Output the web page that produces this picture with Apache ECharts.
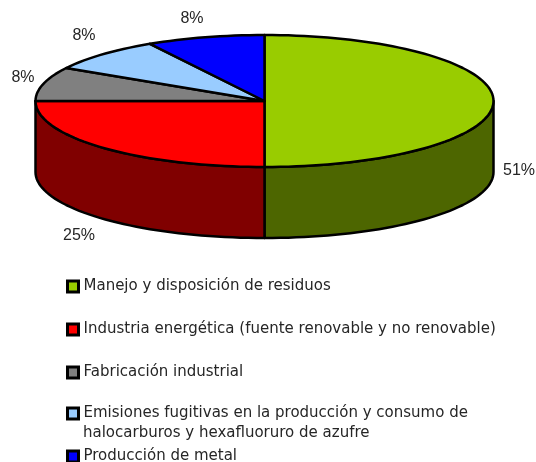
<!DOCTYPE html>
<html>
<head>
<meta charset="utf-8">
<style>
  html, body { margin: 0; padding: 0; background: #fff; }
  #chart { width: 536px; height: 462px; }
</style>
<script src="https://cdn.jsdelivr.net/npm/echarts@6/dist/echarts.min.js"></script>
</head>
<body>
<div id="chart"></div>
<script>
// data
var categories = [
  'Manejo y disposición de residuos',
  'Industria energética (fuente renovable y no renovable)',
  'Fabricación industrial',
  'Emisiones fugitivas en la producción y consumo de\nhalocarburos y hexafluoruro de azufre',
  'Producción de metal'
];
// the printed percentages
var percentLabels = ['51%', '25%', '8%', '8%', '8%'];
// the size each slice is actually drawn at (the printed ones are rounded)
var sliceShares = [50, 25, 8.33, 8.33, 8.34];
var topColors = ['#99CC00', '#FF0000', '#808080', '#99CCFF', '#0000FF'];
var sideColors = ['#4D6600', '#800000', '#404040', '#4D6680', '#000080'];

// layout
var cx = 264.5, cy = 101, rx = 229, ry = 66, depth = 71;
var labelPos = [[519, 171], [79, 236], [23, 78], [84, 36], [192, 19]];
var legendTops = [279, 322, 365, 406, 449];
var labelFont = '16px "Liberation Sans"';
var legendFontName = 'DejaVu Sans';
var textColor = '#262626';

var total = 0;
for (var i = 0; i < sliceShares.length; i++) {
  total += sliceShares[i];
}

function rimPoint(deg, dy) {
  var t = deg * Math.PI / 180;
  return [cx + rx * Math.sin(t), cy - ry * Math.cos(t) + dy];
}

function arc(from, to, dy) {
  var pts = [];
  var n = Math.max(2, Math.ceil(Math.abs(to - from) / 2));
  for (var k = 0; k <= n; k++) {
    pts.push(rimPoint(from + (to - from) * k / n, dy));
  }
  return pts;
}

function renderSlice(index) {
  return function (params, api) {
    var start = api.value(0) / total * 360;
    var end = start + api.value(1) / total * 360;
    var children = [];

    // outer wall, only the front half of the rim shows
    var a = Math.max(start, 90), b = Math.min(end, 270);
    if (b > a) {
      children.push({
        type: 'polygon',
        shape: { points: arc(a, b, 0).concat(arc(b, a, depth)) },
        style: { fill: sideColors[index], stroke: '#000', lineWidth: 2.5, lineJoin: 'round' }
      });
    }

    children.push({
      type: 'polygon',
      shape: { points: [[cx, cy]].concat(arc(start, end, 0)) },
      style: { fill: topColors[index], stroke: '#000', lineWidth: 2.5, lineJoin: 'round' }
    });

    children.push({
      type: 'text',
      style: {
        x: labelPos[index][0],
        y: labelPos[index][1],
        text: percentLabels[index],
        fill: textColor,
        font: labelFont,
        align: 'center',
        verticalAlign: 'middle'
      }
    });

    return { type: 'group', children: children };
  };
}

var series = [];
var legends = [];
var running = 0;
for (var j = 0; j < categories.length; j++) {
  series.push({
    type: 'custom',
    name: categories[j],
    coordinateSystem: 'none',
    itemStyle: { color: topColors[j] },
    renderItem: renderSlice(j),
    data: [[running, sliceShares[j]]],
    silent: true,
    animation: false
  });
  running += sliceShares[j];

  legends.push({
    data: [categories[j]],
    left: 66,
    top: legendTops[j],
    padding: 0,
    itemWidth: 11,
    itemHeight: 11,
    itemGap: 0,
    selectedMode: false,
    icon: 'rect',
    itemStyle: { borderColor: '#000', borderWidth: 3 },
    formatter: function (name) {
      return name.split('\n')[0];
    },
    textStyle: {
      fontFamily: legendFontName,
      fontSize: 15,
      color: textColor,
      padding: [0, 0, 0, 0]
    }
  });
}

var chart = echarts.init(document.getElementById('chart'));
chart.setOption({
  animation: false,
  backgroundColor: '#fff',
  legend: legends,
  series: series,
  graphic: [{
    type: 'text',
    left: 83,
    top: 426,
    style: {
      text: categories[3].split('\n')[1],
      fill: textColor,
      font: '15px "' + legendFontName + '"'
    }
  }]
});
</script>
</body>
</html>
